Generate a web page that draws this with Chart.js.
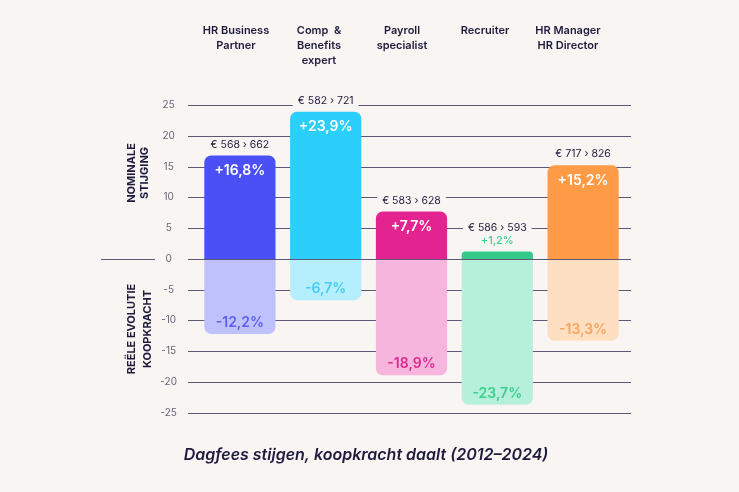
<!DOCTYPE html>
<html>
<head>
<meta charset="utf-8">
<script src="https://cdn.jsdelivr.net/npm/chart.js@4.4.1/dist/chart.umd.min.js"></script>
<style>
  html, body { margin: 0; padding: 0; background: #f8f5f2; }
  #wrap { width: 739px; height: 492px; position: relative; }
</style>
</head>
<body>
<div id="wrap"><canvas id="c" width="739" height="492"></canvas></div>
<script>
// ---- data ----
const categories = ['HR Business Partner', 'Comp & Benefits expert', 'Payroll specialist', 'Recruiter', 'HR Manager HR Director'];
const headerLines = [
  ['HR Business', 'Partner'],
  ['Comp  &', 'Benefits', 'expert'],
  ['Payroll', 'specialist'],
  ['Recruiter'],
  ['HR Manager', 'HR Director']
];
const nominalRise = [16.8, 23.9, 7.7, 1.2, 15.2];
const realEvolution = [-12.2, -6.7, -18.9, -23.7, -13.3];
const dayFeeFrom = [568, 582, 583, 586, 717];
const dayFeeTo = [662, 721, 628, 593, 826];
const yMin = -25, yMax = 25, yStep = 5;
const leftTitles = [['NOMINALE', 'STIJGING'], ['REËLE EVOLUTIE', 'KOOPKRACHT']];
const chartTitle = 'Dagfees stijgen, koopkracht daalt (2012–2024)';

// ---- styles ----
const BG = '#f8f5f2';
const INK = '#1d1a3d';
const GRID = '#5d5878';
const FONT = 'Inter, "Noto Sans", sans-serif';
const strong = ['#4b50f6', '#2ccefb', '#e3238f', '#36c98c', '#ff9b47'];
const pale = ['#bfc1fc', '#b5effd', '#f5b5dd', '#b6efda', '#ffdfc2'];
const negText = ['#5a5ef2', '#45cdf5', '#df2a8f', '#3ccf90', '#f7a55d'];

const fmtPct = v => (v > 0 ? '+' : '-') + Math.abs(v).toFixed(1).replace('.', ',') + '%';

const overlay = {
  id: 'overlay',
  beforeDatasetsDraw(chart) {
    const ctx = chart.ctx, y = chart.scales.y;
    ctx.save();
    ctx.strokeStyle = GRID; ctx.lineWidth = 1;
    y.ticks.forEach(t => {
      if (t.value === 0) return;
      const py = Math.round(y.getPixelForValue(t.value)) + 0.5;
      ctx.beginPath(); ctx.moveTo(188, py); ctx.lineTo(631, py); ctx.stroke();
    });
    ctx.restore();
  },
  afterDatasetsDraw(chart) {
    const ctx = chart.ctx, y = chart.scales.y;
    const pos = chart.getDatasetMeta(0).data, neg = chart.getDatasetMeta(1).data;
    ctx.save();
    // zero line on top of the bars
    const zy = Math.round(y.getPixelForValue(0)) + 0.5;
    ctx.strokeStyle = GRID; ctx.lineWidth = 1;
    ctx.beginPath(); ctx.moveTo(188, zy); ctx.lineTo(631, zy); ctx.stroke();
    ctx.beginPath(); ctx.moveTo(101, zy); ctx.lineTo(155, zy); ctx.stroke();

    ctx.textAlign = 'center'; ctx.textBaseline = 'middle';
    pos.forEach((bar, i) => {
      const top = bar.y;
      let euroY;
      if (nominalRise[i] >= 4) {
        ctx.font = '600 14px ' + FONT; ctx.fillStyle = '#ffffff';
        ctx.fillText(fmtPct(nominalRise[i]), bar.x, top + 15);
        euroY = top - 11;
      } else {
        ctx.font = '500 11px ' + FONT; ctx.fillStyle = negText[i];
        ctx.fillText(fmtPct(nominalRise[i]), bar.x, top - 11);
        euroY = top - 24;
      }
      const txt = '€ ' + dayFeeFrom[i] + ' › ' + dayFeeTo[i];
      ctx.font = '400 10.5px ' + FONT;
      const w = ctx.measureText(txt).width;
      ctx.fillStyle = BG; ctx.fillRect(bar.x - w / 2 - 5, euroY - 6, w + 10, 12);
      ctx.fillStyle = INK; ctx.fillText(txt, bar.x, euroY);
    });
    neg.forEach((bar, i) => {
      ctx.font = '600 14px ' + FONT; ctx.fillStyle = negText[i];
      ctx.fillText(fmtPct(realEvolution[i]), bar.x, bar.y - 11);
    });

    // left side titles
    ctx.font = '700 11px ' + FONT; ctx.fillStyle = INK;
    const drawRot = (t, x, yy) => { ctx.save(); ctx.translate(x, yy); ctx.rotate(-Math.PI / 2); ctx.fillText(t, 0, 0); ctx.restore(); };
    drawRot(leftTitles[0][0], 132, 173); drawRot(leftTitles[0][1], 145, 173);
    drawRot(leftTitles[1][0], 132, 329); drawRot(leftTitles[1][1], 148, 329);
    ctx.restore();
  }
};

new Chart(document.getElementById('c'), {
  type: 'bar',
  data: {
    labels: categories,
    datasets: [
      { label: 'Nominale stijging', data: nominalRise, backgroundColor: strong, borderRadius: 7, borderSkipped: 'start', categoryPercentage: 1, barPercentage: 0.83 },
      { label: 'Reële evolutie koopkracht', data: realEvolution, backgroundColor: pale, borderRadius: 7, borderSkipped: 'start', categoryPercentage: 1, barPercentage: 0.83 }
    ]
  },
  options: {
    responsive: false,
    animation: false,
    layout: { padding: { left: 0, right: 7, top: 23, bottom: 0 } },
    scales: {
      x: { stacked: true, display: false },
      x2: {
        type: 'linear', position: 'top', min: -0.47, max: 4.699, offset: false,
        afterBuildTicks: s => { s.ticks = headerLines.map((_, i) => ({ value: i })); },
        afterFit: s => { s.height = 82; },
        ticks: {
          callback: (v, i) => headerLines[i],
          font: { family: FONT, size: 11, weight: '600', lineHeight: 15 / 11 },
          color: INK, padding: 37, crossAlign: 'far', maxRotation: 0, autoSkip: false
        },
        grid: { display: false, drawTicks: false },
        border: { display: false }
      },
      y: {
        stacked: true, min: yMin, max: yMax,
        afterFit: s => { s.width = 197; },
        ticks: { stepSize: yStep, padding: 20, crossAlign: 'center', color: '#66637a', font: { family: FONT, size: 10 } },
        grid: { display: false, drawTicks: false },
        border: { display: false }
      },
      y2: {
        type: 'linear', position: 'right', min: yMin, max: yMax,
        afterFit: s => { s.width = 106; },
        ticks: { display: false },
        grid: { display: false, drawTicks: false },
        border: { display: false }
      }
    },
    plugins: {
      legend: { display: false },
      tooltip: { enabled: false },
      title: {
        display: true, text: chartTitle, position: 'bottom', color: INK,
        font: { family: FONT, size: 16, weight: '600', style: 'italic', lineHeight: 1.2 },
        padding: { top: 33, bottom: 27 }
      }
    }
  },
  plugins: [overlay]
});
</script>
</body>
</html>
